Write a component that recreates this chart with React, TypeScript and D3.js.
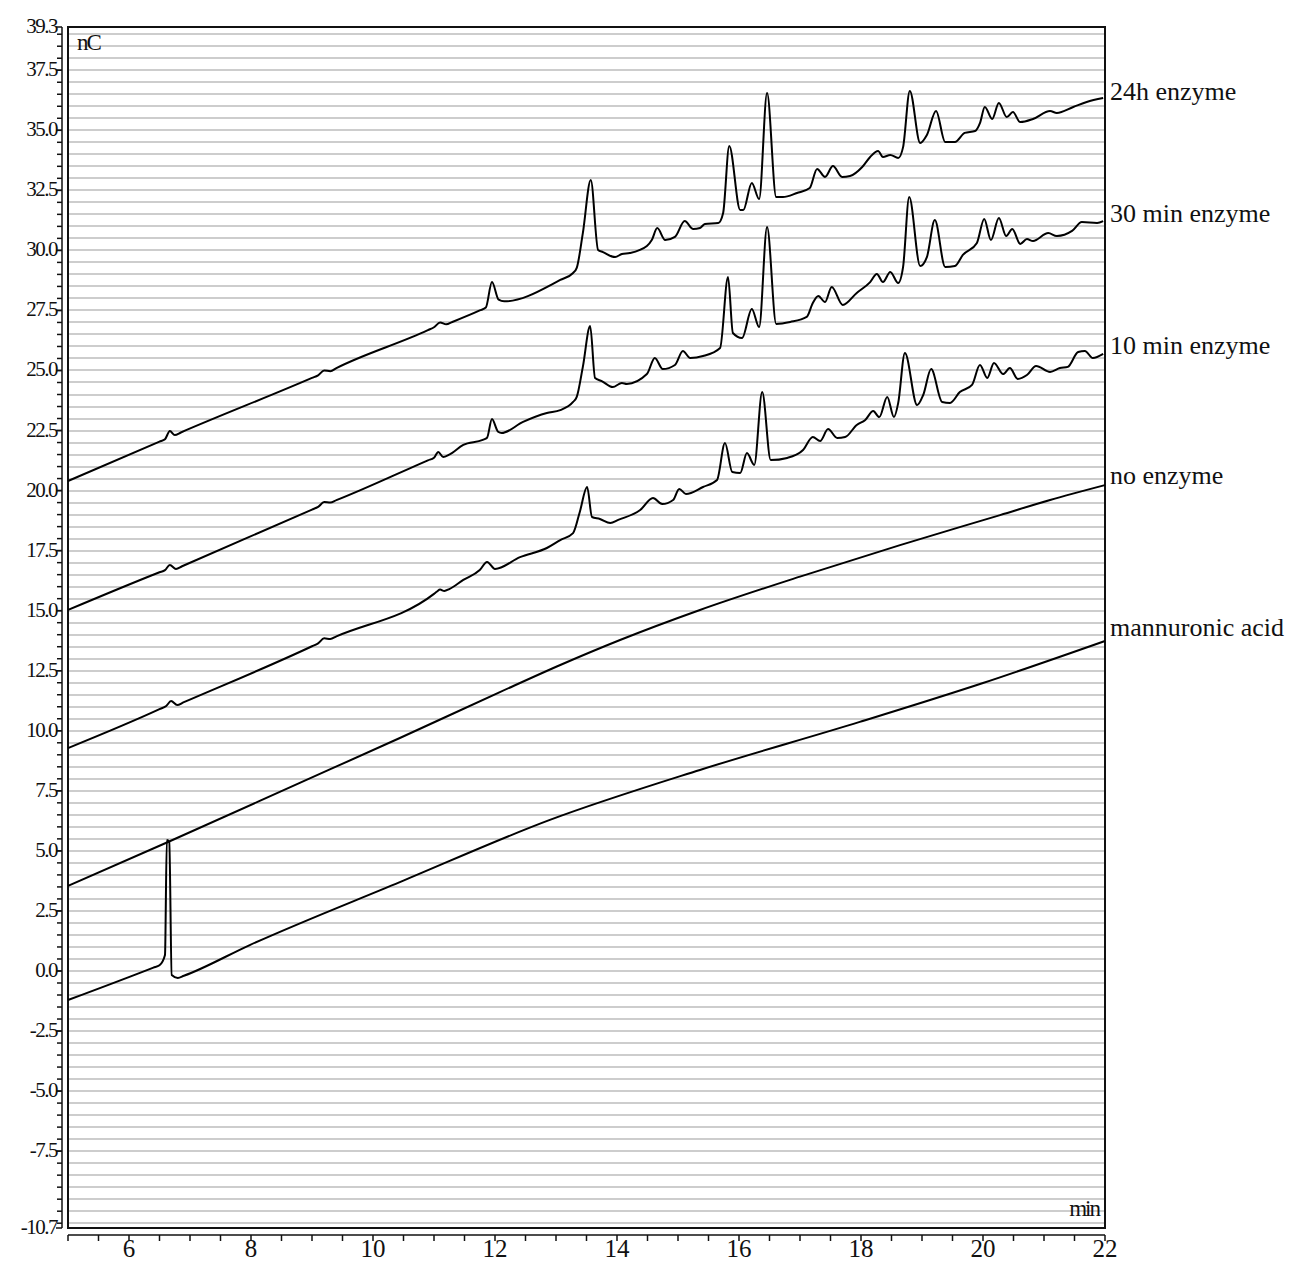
import React, { useEffect, useRef } from "react";
import * as d3 from "d3";

// retention time (min), signal (nC)
const enzyme24h: [number, number][] = [
  [5.0, 20.4], [6.5, 22.04], [6.59, 22.14], [6.67, 22.48], [6.75, 22.31], [6.85, 22.42], [9.0, 24.69],
  [9.1, 24.8], [9.2, 25.0], [9.3, 24.97], [9.4, 25.1], [10.9, 26.68], [11.0, 26.8], [11.1, 27.0], [11.2, 26.92],
  [11.3, 27.02], [11.75, 27.5], [11.85, 27.62], [11.95, 28.68], [12.06, 27.95], [12.15, 27.88], [13.07, 28.77],
  [13.28, 29.06], [13.34, 29.27], [13.44, 30.72],
  [13.57, 32.93], [13.69, 30.02], [13.77, 29.93], [13.97, 29.72], [14.08, 29.85], [14.21, 29.89], [14.49, 30.18],
  [14.57, 30.43], [14.66, 30.93], [14.79, 30.43], [14.95, 30.56], [15.11, 31.22], [15.25, 30.89], [15.36, 30.93],
  [15.44, 31.1], [15.66, 31.14], [15.74, 31.56], [15.84, 34.35], [16.02, 31.68], [16.07, 31.68], [16.21, 32.81],
  [16.33, 32.14], [16.46, 36.55], [16.61, 32.22], [16.72, 32.22], [16.95, 32.39], [17.16, 32.6], [17.28, 33.39],
  [17.41, 33.06], [17.54, 33.51], [17.69, 33.06], [17.82, 33.1], [18.02, 33.47], [18.15, 33.89], [18.28, 34.14],
  [18.36, 33.89], [18.48, 33.97], [18.61, 33.85], [18.69, 34.3], [18.8, 36.64], [18.97, 34.47], [19.08, 34.8],
  [19.23, 35.8], [19.38, 34.51], [19.54, 34.51], [19.7, 34.89], [19.87, 34.97], [19.95, 35.3], [20.03, 35.97],
  [20.15, 35.47], [20.26, 36.14], [20.39, 35.55], [20.49, 35.76], [20.61, 35.34], [20.82, 35.47], [21.1, 35.8],
  [21.21, 35.72], [21.48, 35.97], [21.7, 36.18], [21.97, 36.34],
];

const enzyme30min: [number, number][] = [
  [5.0, 15.03], [6.5, 16.6], [6.59, 16.69], [6.67, 16.9], [6.77, 16.74], [6.87, 16.85], [9.0, 19.21],
  [9.1, 19.32], [9.2, 19.52], [9.3, 19.5], [9.4, 19.6], [10.9, 21.26], [11.0, 21.37], [11.07, 21.61],
  [11.15, 21.4], [11.25, 21.5], [11.48, 21.9], [11.8, 22.11], [11.87, 22.2], [11.95, 22.98], [12.05, 22.45],
  [12.11, 22.4], [12.46, 22.86], [12.85, 23.23],
  [13.07, 23.35], [13.28, 23.69], [13.34, 23.9], [13.44, 25.15], [13.56, 26.85], [13.64, 24.69], [13.75, 24.56],
  [13.93, 24.31], [14.08, 24.48], [14.16, 24.44], [14.49, 24.85], [14.62, 25.52], [14.75, 25.06], [14.95, 25.23],
  [15.08, 25.81], [15.2, 25.52], [15.41, 25.6], [15.69, 25.94], [15.82, 28.89], [15.9, 26.56], [16.05, 26.35],
  [16.21, 27.56], [16.33, 26.81], [16.46, 30.97], [16.61, 26.94], [16.84, 27.02], [17.11, 27.23], [17.21, 27.81],
  [17.3, 28.1], [17.41, 27.85], [17.52, 28.48], [17.7, 27.73], [17.93, 28.23], [18.15, 28.68], [18.26, 29.02],
  [18.36, 28.68], [18.48, 29.1], [18.61, 28.64], [18.69, 29.31], [18.79, 32.22], [18.97, 29.35], [19.08, 29.72],
  [19.21, 31.26], [19.38, 29.31], [19.54, 29.35], [19.67, 29.81], [19.9, 30.31], [20.02, 31.31], [20.13, 30.43],
  [20.26, 31.35], [20.38, 30.6], [20.48, 30.89], [20.61, 30.27], [20.72, 30.47], [20.82, 30.39], [21.07, 30.72],
  [21.21, 30.6], [21.46, 30.81], [21.62, 31.18], [21.87, 31.14], [21.97, 31.22],
];

const enzyme10min: [number, number][] = [
  [5.0, 9.28], [6.5, 10.9], [6.61, 11.03], [6.69, 11.24], [6.79, 11.07], [6.89, 11.18], [9.0, 13.52],
  [9.1, 13.64], [9.2, 13.85], [9.3, 13.82], [9.4, 13.93], [11.0, 15.7], [11.05, 15.8], [11.1, 15.88],
  [11.17, 15.82], [11.25, 15.9], [11.48, 16.28], [11.75, 16.69], [11.87, 17.03],
  [12.0, 16.74], [12.41, 17.23], [12.85, 17.61], [13.07, 17.94], [13.28, 18.23], [13.39, 19.11], [13.51, 20.15],
  [13.59, 18.9], [13.72, 18.82], [13.89, 18.65], [14.02, 18.78], [14.38, 19.19], [14.59, 19.69], [14.74, 19.44],
  [14.92, 19.61], [15.02, 20.07], [15.13, 19.86], [15.41, 20.15], [15.64, 20.44], [15.77, 21.98], [15.89, 20.77],
  [16.02, 20.73], [16.13, 21.56], [16.25, 21.07], [16.38, 24.1], [16.52, 21.27], [16.79, 21.36], [17.05, 21.69],
  [17.21, 22.23], [17.33, 22.06], [17.46, 22.56], [17.61, 22.19], [17.74, 22.23], [17.93, 22.73], [18.07, 22.94],
  [18.2, 23.31], [18.3, 23.06], [18.43, 23.9], [18.54, 23.06], [18.61, 23.65], [18.72, 25.73], [18.92, 23.56],
  [19.02, 23.98], [19.15, 25.06], [19.33, 23.69], [19.46, 23.65], [19.62, 24.1], [19.82, 24.4], [19.95, 25.23],
  [20.07, 24.69], [20.18, 25.31], [20.33, 24.85], [20.44, 25.1], [20.57, 24.65], [20.72, 24.81], [20.87, 25.19],
  [21.1, 24.94], [21.26, 25.1], [21.39, 25.15], [21.56, 25.77], [21.67, 25.81], [21.8, 25.52], [21.97, 25.69],
];

const noEnzyme: [number, number][] = [
  [5.0, 3.54], [6.64, 5.37], [8.8, 7.83], [10.44, 9.7], [12.08, 11.61], [13.07, 12.74], [14.05, 13.78],
  [15.36, 15.03], [17.0, 16.42], [18.64, 17.73], [20.28, 18.98], [21.1, 19.61], [22.0, 20.23],
];

const mannuronicAcid: [number, number][] = [
  [5.0, -1.21], [6.4, 0.14], [6.5, 0.24], [6.59, 0.67], [6.62, 5.45], [6.66, 5.37], [6.7, -0.17], [6.8, -0.29],
  [6.9, -0.2], [7.98, 1.08], [10.44, 3.7], [12.9, 6.29], [15.36, 8.37], [17.98, 10.37], [20.0, 11.99],
  [22.0, 13.74],
];

const seriesList = [enzyme24h, enzyme30min, enzyme10min, noEnzyme, mannuronicAcid];
const seriesLabels = ["24h enzyme", "30 min enzyme", "10 min enzyme", "no enzyme", "mannuronic acid"];
const labelValues = [36.6, 31.5, 26.0, 20.6, 14.3];

const yTickValues = [39.3, 37.5, 35.0, 32.5, 30.0, 27.5, 25.0, 22.5, 20.0, 17.5, 15.0, 12.5, 10.0, 7.5, 5.0, 2.5, 0.0, -2.5, -5.0, -7.5, -10.7];
const xTickValues = [6, 8, 10, 12, 14, 16, 18, 20, 22];

const App = () => {
  const svgRef = useRef<SVGSVGElement>(null);

  useEffect(() => {
    const width = 1291;
    const height = 1263;
    const margin = { top: 27, right: 186, bottom: 35, left: 68 };

    d3.select(svgRef.current).selectAll("*").remove();
    const svg = d3.select(svgRef.current).attr("width", width).attr("height", height);

    const x = d3.scaleLinear().domain([5, 22]).range([margin.left, width - margin.right]);
    const y = d3.scaleLinear().domain([-10.7, 39.3]).range([height - margin.bottom, margin.top]);

    const font = "'Liberation Serif', 'Times New Roman', serif";

    // horizontal grid every 0.5 nC
    const grid = d3.range(-10.5, 39.3, 0.5);
    svg
      .append("g")
      .selectAll("line")
      .data(grid)
      .join("line")
      .attr("x1", x(5))
      .attr("x2", x(22))
      .attr("y1", (d) => Math.round(y(d)))
      .attr("y2", (d) => Math.round(y(d)))
      .attr("stroke", "#cdcdcd")
      .attr("stroke-width", 2);

    // plot frame
    svg
      .append("rect")
      .attr("x", x(5))
      .attr("y", y(39.3))
      .attr("width", x(22) - x(5))
      .attr("height", y(-10.7) - y(39.3))
      .attr("fill", "none")
      .attr("stroke", "#111")
      .attr("stroke-width", 2);

    // y axis (separate from frame)
    const yAxisX = x(5) - 6;
    const yAxis = svg.append("g").attr("transform", `translate(${yAxisX},0)`);
    yAxis
      .append("line")
      .attr("y1", y(39.3))
      .attr("y2", y(-10.7))
      .attr("stroke", "#111")
      .attr("stroke-width", 1.5);
    yAxis
      .selectAll("line.minor")
      .data(d3.range(-10.5, 39.3, 0.5))
      .join("line")
      .attr("class", "minor")
      .attr("x1", -5)
      .attr("x2", 0)
      .attr("y1", (d) => y(d))
      .attr("y2", (d) => y(d))
      .attr("stroke", "#111")
      .attr("stroke-width", 1.5);
    yAxis
      .selectAll("line.major")
      .data(yTickValues)
      .join("line")
      .attr("class", "major")
      .attr("x1", -6)
      .attr("x2", 0)
      .attr("y1", (d) => y(d))
      .attr("y2", (d) => y(d))
      .attr("stroke", "#111")
      .attr("stroke-width", 1.5);
    yAxis
      .selectAll("text")
      .data(yTickValues)
      .join("text")
      .attr("x", -5)
      .attr("y", (d) => y(d) + 6)
      .attr("text-anchor", "end")
      .attr("font-family", font)
      .attr("font-size", 21)
      .attr("letter-spacing", -1.5)
      .attr("fill", "#111")
      .text((d) => d.toFixed(1));

    // x axis
    const xAxisY = y(-10.7) + 7;
    const xAxis = svg.append("g").attr("transform", `translate(0,${xAxisY})`);
    xAxis
      .append("line")
      .attr("x1", x(5))
      .attr("x2", x(22))
      .attr("stroke", "#111")
      .attr("stroke-width", 1.5);
    xAxis
      .selectAll("line.tick")
      .data(d3.range(5, 22.01, 0.5))
      .join("line")
      .attr("class", "tick")
      .attr("x1", (d) => x(d))
      .attr("x2", (d) => x(d))
      .attr("y1", 0)
      .attr("y2", 6)
      .attr("stroke", "#111")
      .attr("stroke-width", 1.5);
    xAxis
      .selectAll("text")
      .data(xTickValues)
      .join("text")
      .attr("x", (d) => x(d))
      .attr("y", 22)
      .attr("text-anchor", "middle")
      .attr("font-family", font)
      .attr("font-size", 25)
      .attr("fill", "#111")
      .text((d) => d);

    // unit labels
    svg
      .append("text")
      .attr("x", x(5) + 9)
      .attr("y", y(39.3) + 23)
      .attr("font-family", font)
      .attr("font-size", 23)
      .attr("letter-spacing", -2)
      .attr("fill", "#111")
      .text("nC");
    svg
      .append("text")
      .attr("x", x(22) - 6)
      .attr("y", y(-10.7) - 12)
      .attr("text-anchor", "end")
      .attr("font-family", font)
      .attr("font-size", 23)
      .attr("letter-spacing", -2)
      .attr("fill", "#111")
      .text("min");

    // traces
    const line = d3
      .line<[number, number]>()
      .x((d) => x(d[0]))
      .y((d) => y(d[1]))
      .curve(d3.curveMonotoneX);

    svg
      .append("g")
      .selectAll("path")
      .data(seriesList)
      .join("path")
      .attr("fill", "none")
      .attr("stroke", "#000")
      .attr("stroke-width", 2)
      .attr("stroke-linejoin", "round")
      .attr("d", (d) => line(d));

    // trace labels on the right
    svg
      .append("g")
      .selectAll("text")
      .data(seriesLabels)
      .join("text")
      .attr("x", x(22) + 5)
      .attr("y", (d, i) => y(labelValues[i]) + 8)
      .attr("font-family", font)
      .attr("font-size", 26)
      .attr("fill", "#111")
      .text((d) => d);
  }, []);

  return (
    <div style={{ position: "absolute", left: 0, top: 0, background: "#fff" }}>
      <svg ref={svgRef}></svg>
    </div>
  );
};

export default App;
